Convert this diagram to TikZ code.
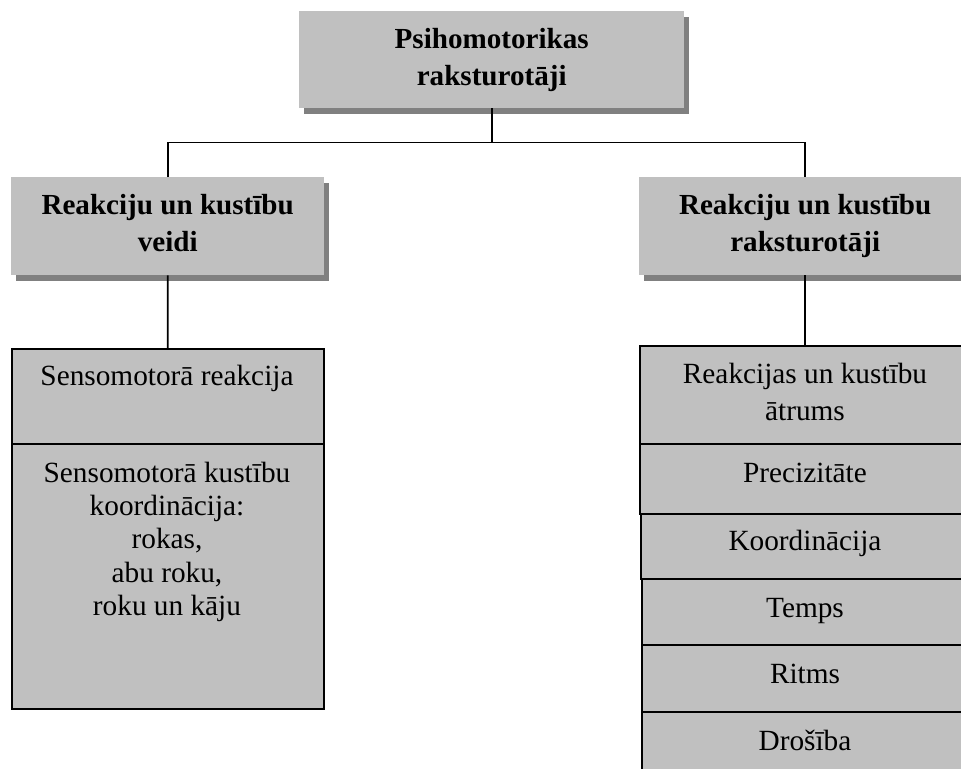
\documentclass[tikz,border=0pt]{standalone}
\usepackage{fontspec}
\setmainfont{Liberation Serif}
\usetikzlibrary{shadows}

\definecolor{boxgray}{HTML}{C0C0C0}
\definecolor{shadegray}{HTML}{808080}

\newcommand\psyhead{\bfseries\fontsize{29.1bp}{37bp}\selectfont}
\newcommand\psycell{\fontsize{29.3bp}{33.3bp}\selectfont}
\newcommand\psycellwide{\fontsize{29.3bp}{37bp}\selectfont}

\tikzset{
  headbox/.style={rectangle, fill=boxgray, inner sep=0pt, anchor=north west,
    align=center, font=\psyhead,
    drop shadow={shadow xshift=5bp, shadow yshift=-6bp, fill=shadegray, opacity=1}},
  cellbox/.style={rectangle, fill=boxgray, draw=black, line width=1.6bp,
    inner sep=0pt, anchor=north west},
  celltext/.style={align=center, font=\psycell, inner sep=0pt},
  link/.style={draw=black, line width=1.8bp},
}

\begin{document}
\begin{tikzpicture}[x=1bp, y=-1bp]
  \path[use as bounding box, clip] (0,0) rectangle (961,769);

  % heading boxes with drop shadows
  \node[headbox, minimum width=385bp, minimum height=97bp] (root) at (299,11)
    {Psihomotorikas\\raksturotāji};
  \node[headbox, minimum width=313bp, minimum height=98bp] (lh) at (11,177)
    {Reakciju un kustību\\veidi\vphantom{j}};
  \node[headbox, minimum width=332bp, minimum height=98bp] (rh) at (639,177)
    {Reakciju un kustību\\raksturotāji};

  % left column: kinds of reactions and movements
  \node[cellbox, minimum width=312bp, minimum height=95bp]  (l1) at (11,348) {};
  \node[cellbox, minimum width=312bp, minimum height=265bp] (l2) at (11,443) {};

  % right column: characteristics (runs past the right edge)
  \node[cellbox, minimum width=340bp, minimum height=98bp] (r1) at (639,345) {};
  \node[cellbox, minimum width=340bp, minimum height=70bp] (r2) at (639,443) {};
  \node[cellbox, minimum width=340bp, minimum height=65bp] (r3) at (640,513) {};
  \node[cellbox, minimum width=340bp, minimum height=66bp] (r4) at (641,578) {};
  \node[cellbox, minimum width=340bp, minimum height=67bp] (r5) at (641,644) {};
  \node[cellbox, minimum width=340bp, minimum height=80bp] (r6) at (641,711) {};

  % cell texts
  \node[celltext, anchor=base] (tl1) at (167,385) {Sensomotorā reakcija};
  \node[celltext, anchor=north] (tl2) at (167,461)
    {\rule{0pt}{21bp}Sensomotorā kustību\\koordinācija:\\rokas,\\abu roku,\\roku un kāju};
  \node[celltext, anchor=north, font=\psycellwide] (tr1) at (805,362)
    {\rule{0pt}{21bp}Reakcijas un kustību\\ātrums};
  \node[celltext, anchor=base] (tr2) at (805,482) {Precizitāte};
  \node[celltext, anchor=base] (tr3) at (805,550) {Koordinācija};
  \node[celltext, anchor=base] (tr4) at (805,617) {Temps};
  \node[celltext, anchor=base] (tr5) at (805,683) {Ritms};
  \node[celltext, anchor=base] (tr6) at (805,750) {Drošība};

  % connectors
  \draw[link] (root.south) -- ++(0,34) coordinate (fork);
  \draw[link] (lh.north) |- (fork) -| (rh.north);
  \draw[link] (lh.south) -- (l1.north);
  \draw[link] (rh.south) -- (rh.south |- r1.north);
\end{tikzpicture}
\end{document}
